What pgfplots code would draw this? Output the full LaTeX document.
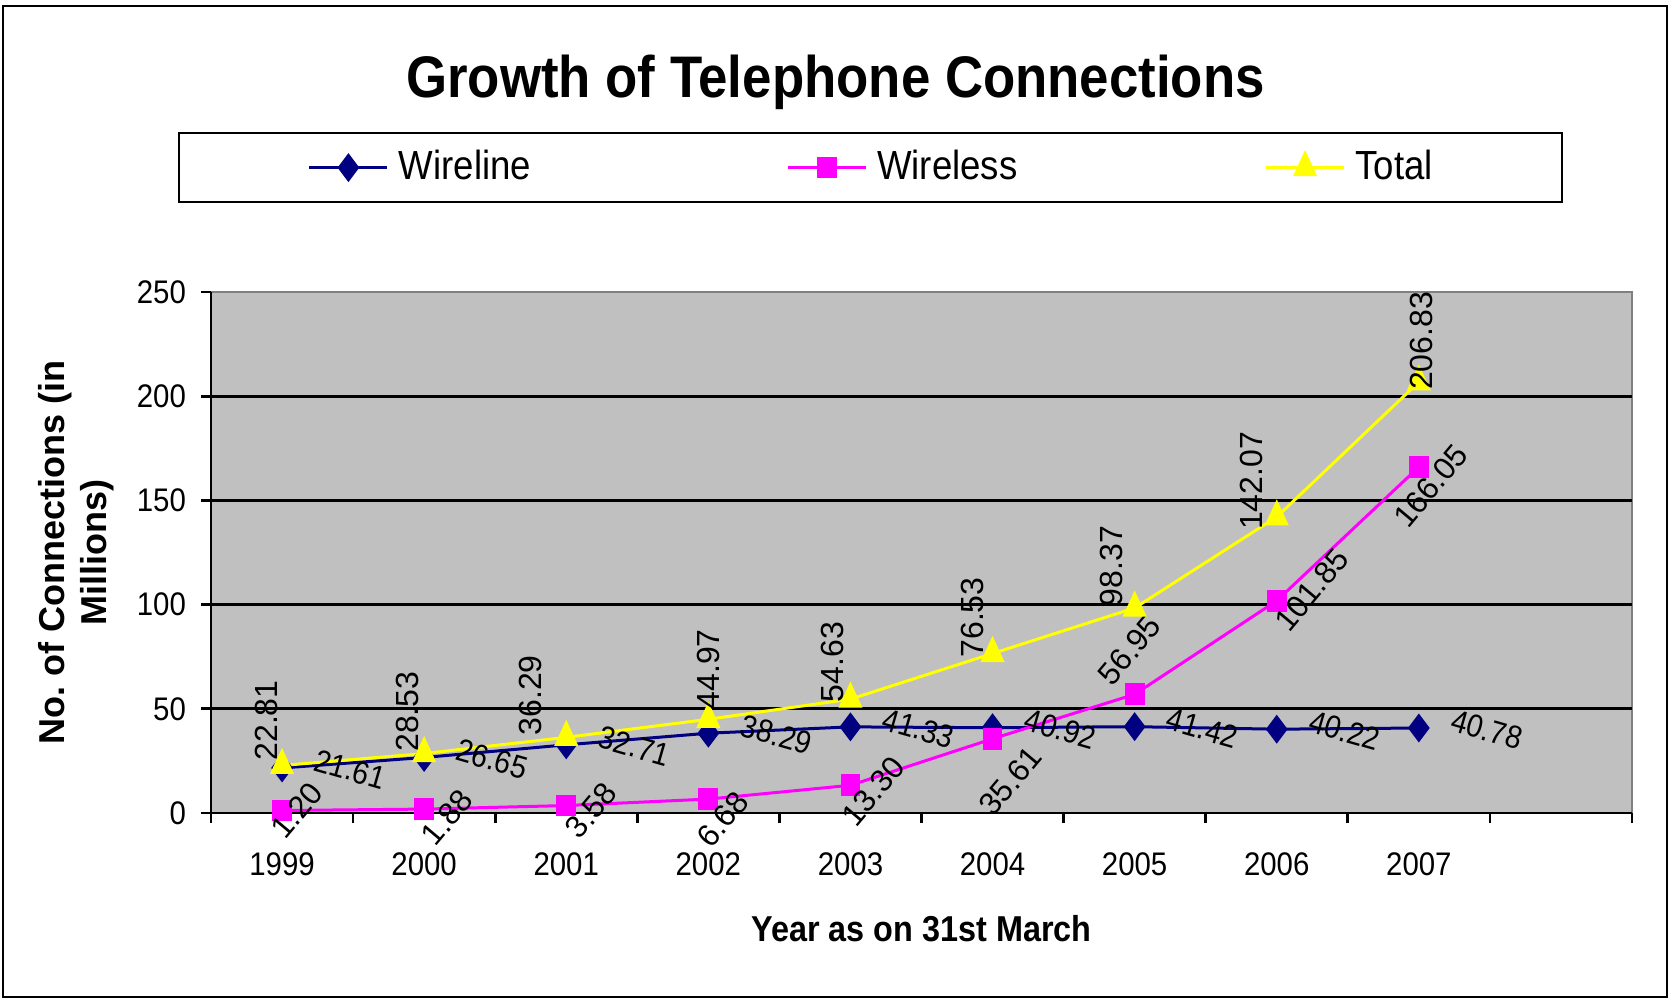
\documentclass[border=0pt]{standalone}
\usepackage{fontspec}
\setmainfont{Liberation Sans}[FakeStretch=0.9]
\newfontfamily\plainfont{Liberation Sans}
\usepackage{pgfplots}
\usepackage{pgfplotstable}
\pgfplotsset{compat=1.18}

\definecolor{plotbg}{HTML}{C0C0C0}
\definecolor{edgegray}{HTML}{808080}
\definecolor{wirecol}{HTML}{000080}
\definecolor{lesscol}{HTML}{FF00FF}
\definecolor{totcol}{HTML}{FFFF00}

% x = category slot (1 = 1999 ... 9 = 2007), dx/dy = label offset in pt
\pgfplotstableread{
x y
1 21.61
2 26.65
3 32.71
4 38.29
5 41.33
6 40.92
7 41.42
8 40.22
9 40.78
}\wireline

\pgfplotstableread{
x y dx dy
1 1.20 4.5 0.0
2 1.88 6.9 -2.4
3 3.58 7.5 -1.5
4 6.68 4.2 -6.0
5 13.30 6.9 -1.8
6 35.61 5.4 -12.6
7 56.95 -1.5 13.2
8 101.85 10.5 3.3
9 166.05 3.6 -5.7
}\wireless

\pgfplotstableread{
x y dx dy
1 22.81 -4.8 13.5
2 28.53 -5.1 12.6
3 36.29 -10.8 12.6
4 44.97 0.0 15.0
5 54.63 -5.4 11.1
6 76.53 -6.0 10.8
7 98.37 -6.9 12.6
8 142.07 -7.5 10.8
9 206.83 0.9 12.3
}\totaldata

\begin{document}
\begin{tikzpicture}
\useasboundingbox (0,0) rectangle (501.3pt,300.6pt);
\draw[line width=0.6pt] (0.8pt,1.5pt) rectangle (500.1pt,298.9pt);
\node[anchor=base, font=\bfseries\fontsize{17.6}{20}\selectfont] at (250.65pt,271.4pt)
  {Growth of Telephone Connections};

\begin{axis}[
    at={(63.3pt,56.7pt)}, anchor=south west,
    scale only axis,
    width=426.3pt, height=156.3pt,
    xmin=0.5, xmax=10.5,
    ymin=0, ymax=250,
    clip=false,
    axis x line*=bottom,
    axis y line*=left,
    axis line style={-, black, line width=0.8pt},
    axis background/.style={fill=plotbg, draw=edgegray, line width=0.8pt},
    tick align=outside,
    major tick length=3pt,
    tick style={black, line width=0.8pt},
    xtick={0.5,1.5,...,10.5},
    xticklabels={},
    extra x ticks={1,2,...,9},
    extra x tick labels={1999,2000,2001,2002,2003,2004,2005,2006,2007},
    extra x tick style={major tick length=0pt},
    xticklabel style={yshift=-8.3pt},
    ytick={0,50,...,250},
    extra y ticks={50,100,150,200},
    extra y tick labels={},
    extra y tick style={grid=major, major tick length=0pt},
    grid style={black, line width=0.8pt},
    yticklabel style={xshift=-1pt},
    tick label style={font=\fontsize{9.8}{11}\selectfont},
    /pgf/number format/assume math mode=true,
    xlabel={Year as on 31st March},
    xlabel style={at={(axis description cs:0.5,0)}, anchor=base, yshift=-38.6pt,
      font=\bfseries\fontsize{10.8}{12}\selectfont},
    ylabel={No.\ of Connections (in\\Millions)},
    ylabel style={at={(axis description cs:-0.095,0.5)}, anchor=center, align=center,
      font=\plainfont\bfseries\fontsize{10.8}{12.6}\selectfont},
    legend columns=3,
    legend cell align=left,
    legend style={
      at={(axis description cs:-0.0235,1.3077)}, anchor=north west,
      draw=black, line width=0.6pt, fill=white,
      inner xsep=38.8pt, inner ysep=5.3pt,
      font=\fontsize{12.2}{14}\selectfont,
      nodes={inner sep=0pt},
      /tikz/every odd column/.append style={column sep=3pt},
      /tikz/every even column/.append style={column sep=0pt},
    },
    legend image code/.code={
      \draw[mark repeat=2, mark phase=2] plot coordinates {(0pt,0pt) (11.7pt,0pt) (23.4pt,0pt)};
    },
    nodes near coords={\pgfmathprintnumber[fixed,fixed zerofill,precision=2]{\pgfplotspointmeta}},
]

% Wireline
\addplot[
    color=wirecol, line width=0.9pt,
    mark=diamond*, mark size=3.6pt, mark options={solid, fill=wirecol},
    every node near coord/.append style={text=black, font=\fontsize{9.6}{11}\selectfont,
      anchor=center, xshift=20.4pt, yshift=-0.45pt, rotate=-16},
] table[x=x, y=y] {\wireline};
\addlegendentry{\makebox[116.2pt][l]{Wireline}}

% Wireless
\addplot[
    color=lesscol, line width=0.9pt,
    mark=square*, mark size=2.8pt, mark options={solid, fill=lesscol, xscale=0.9},
    visualization depends on={\thisrow{dx} \as \dx},
    visualization depends on={\thisrow{dy} \as \dy},
    every node near coord/.append style={text=black, font=\plainfont\fontsize{9.4}{11}\selectfont,
      anchor=center, xshift={\dx pt}, yshift={\dy pt}, rotate=50},
] table[x=x, y=y] {\wireless};
\addlegendentry{\makebox[116.2pt][l]{Wireless}}

% Total
\addplot[
    color=totcol, line width=0.9pt,
    mark=triangle*, mark size=4.2pt, mark options={solid, fill=totcol, xscale=0.8},
    visualization depends on={\thisrow{dx} \as \dx},
    visualization depends on={\thisrow{dy} \as \dy},
    every node near coord/.append style={text=black, font=\plainfont\fontsize{9.6}{11}\selectfont,
      anchor=center, xshift={\dx pt}, yshift={\dy pt}, rotate=90},
] table[x=x, y=y] {\totaldata};
\addlegendentry{Total}

\end{axis}
\end{tikzpicture}
\end{document}
